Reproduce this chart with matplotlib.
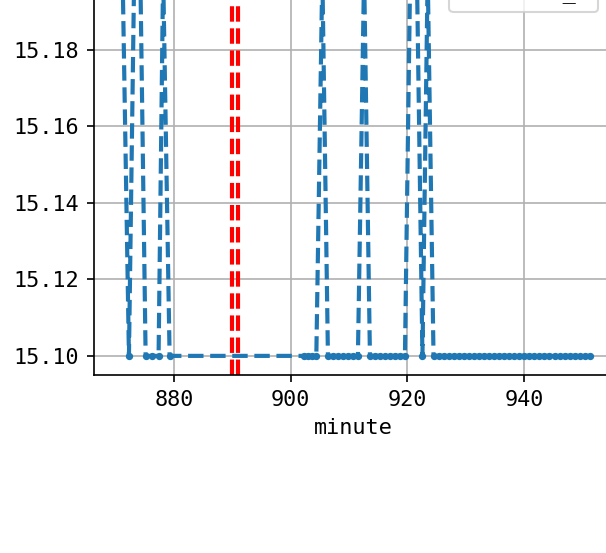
import matplotlib
matplotlib.use("Agg")
import matplotlib.pyplot as plt

plt.rcParams['font.family'] = ['DejaVu Sans Mono']
plt.rcParams['font.size'] = 10.5

# ---- data ----
minutes = [870.4, 871.2, 872.29, 873.19, 874.24, 875.15, 876.23, 877.37, 878.15, 879.26,
           902.24, 902.97, 903.73, 904.41, 905.44, 906.40, 907.26, 908.12, 908.97, 909.83,
           910.69, 911.54, 912.60, 913.60, 914.46, 915.32, 916.17, 917.03, 917.89, 918.74,
           919.60, 920.50, 921.65, 922.60, 923.50,
           924.50, 925.36, 926.23, 927.09, 927.96, 928.82, 929.69, 930.55, 931.42, 932.28,
           933.15, 934.01, 934.87, 935.74, 936.60, 937.47, 938.33, 939.20, 940.06, 940.93,
           941.79, 942.66, 943.52, 944.38, 945.25, 946.11, 946.98, 947.84, 948.71, 949.57,
           950.44, 951.30]
price = [15.20, 15.20, 15.10, 15.20, 15.20, 15.10, 15.10, 15.10, 15.20, 15.10,
         15.10, 15.10, 15.10, 15.10, 15.20, 15.10, 15.10, 15.10, 15.10, 15.10,
         15.10, 15.10, 15.20, 15.10, 15.10, 15.10, 15.10, 15.10, 15.10, 15.10,
         15.10, 15.20, 15.20, 15.10, 15.20,
         15.10, 15.10, 15.10, 15.10, 15.10, 15.10, 15.10, 15.10, 15.10, 15.10,
         15.10, 15.10, 15.10, 15.10, 15.10, 15.10, 15.10, 15.10, 15.10, 15.10,
         15.10, 15.10, 15.10, 15.10, 15.10, 15.10, 15.10, 15.10, 15.10, 15.10,
         15.10, 15.10]
event_minutes = [890, 891]
series_label = "close_1"
x_ticks = [880, 900, 920, 940]
y_ticks = [15.10, 15.12, 15.14, 15.16, 15.18]

W, H, DPI = 606, 553, 150
fig = plt.figure(figsize=(W / DPI, H / DPI), dpi=DPI)
ax = fig.add_axes([94 / W, 178 / H, 519.2 / W, 420.75 / H])

for m in event_minutes:
    ax.axvline(m, color='red', linestyle='--', linewidth=2)

ax.plot(minutes, price, color='#1f77b4', linestyle='--', linewidth=2,
        marker='.', markersize=5, label=series_label)

ax.set_xlim(866.3, 955.3)
ax.set_ylim(15.095, 15.205)
ax.set_xticks(x_ticks)
ax.set_yticks(y_ticks)
ax.set_yticklabels([f"{v:.2f}" for v in y_ticks])
ax.grid(True)
ax.set_xlabel("minute")

ax.legend(loc='lower right', bbox_to_anchor=(598 / W, (H - 12) / H),
          bbox_transform=fig.transFigure, borderaxespad=0, handlelength=1.0)

fig.savefig("out.png", dpi=DPI)
